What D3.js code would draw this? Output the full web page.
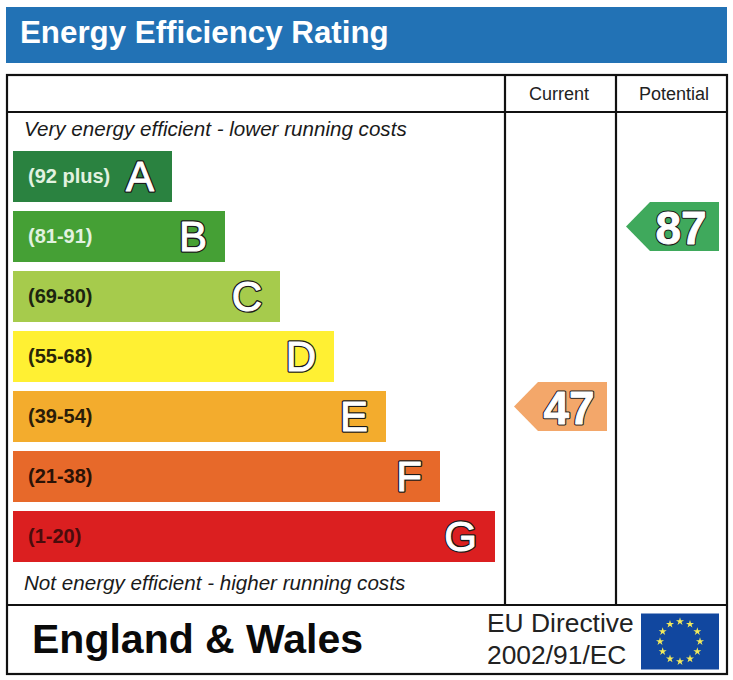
<!DOCTYPE html>
<html>
<head>
<meta charset="utf-8">
<script src="https://cdn.jsdelivr.net/npm/d3@7"></script>
<style>
  body { margin: 0; background: #fff; }
  text { font-family: "Liberation Sans", Arial, sans-serif; }
</style>
</head>
<body>
<svg id="chart"></svg>
<script>
const bands = ["A", "B", "C", "D", "E", "F", "G"];
const ranges = ["(92 plus)", "(81-91)", "(69-80)", "(55-68)", "(39-54)", "(21-38)", "(1-20)"];
const barLengths = [159, 212, 267, 321, 373, 427, 482];
const barColors = ["#2a8240", "#45a035", "#a6cb4c", "#fff033", "#f3ac2d", "#e7692a", "#db1f20"];
const rangeColors = ["#e2f2e0", "#e2f2e0", "#1c2410", "#2a2608", "#2a1c08", "#2a1206", "#4a0c0c"];
const columns = ["Current", "Potential"];
const ratings = [47, 87];
const ratingBands = ["E", "B"];
const ratingColors = ["#f3a76a", "#3fa95c"];

const width = 733,
  height = 680;
const svg = d3.select("#chart").attr("width", width).attr("height", height);

// banner
svg.append("rect").attr("x", 6).attr("y", 7).attr("width", 721).attr("height", 56).attr("fill", "#2272b5");
svg.append("text").attr("x", 20).attr("y", 43).attr("fill", "#fff")
  .attr("font-size", 31.3).attr("font-weight", "bold").text("Energy Efficiency Rating");

const y = d3.scaleBand().domain(bands).range([151, 562]).paddingInner(9 / 60).paddingOuter(0);
const x = d3.scaleLinear().domain([0, 482]).range([13, 495]);
const columnX = d3.scaleOrdinal().domain(columns).range([607, 719]);

// draws the same text twice: dark halo below, white body on top
const outlined = (sel, outer, inner) => {
  sel.append("text").attr("class", "halo").attr("stroke", "#1a1a1a").attr("stroke-width", outer)
    .attr("stroke-linejoin", "round").attr("fill", "#1a1a1a");
  sel.append("text").attr("class", "body").attr("stroke", "#fff").attr("stroke-width", inner)
    .attr("stroke-linejoin", "round").attr("fill", "#fff");
};

// bars
const bar = svg.selectAll(".band").data(bands).enter().append("g").attr("class", "band");
bar.append("rect")
  .attr("x", x(0))
  .attr("y", (d) => y(d))
  .attr("width", (d, i) => x(barLengths[i]) - x(0))
  .attr("height", y.bandwidth())
  .attr("fill", (d, i) => barColors[i]);
bar.append("text")
  .attr("class", "range")
  .attr("x", 28)
  .attr("y", (d) => y(d) + y.bandwidth() / 2 + 6.5)
  .attr("font-size", 20)
  .attr("font-weight", "bold")
  .attr("fill", (d, i) => rangeColors[i])
  .text((d, i) => ranges[i]);
outlined(bar, 3.6, 1);
bar.selectAll(".halo, .body")
  .attr("x", function () {
    const i = bands.indexOf(d3.select(this.parentNode).datum());
    return x(barLengths[i]) - 18;
  })
  .attr("y", function () {
    const d = d3.select(this.parentNode).datum();
    return y(d) + y.bandwidth() / 2 + 14.5;
  })
  .attr("text-anchor", "end")
  .attr("font-size", 42)
  .text(function () {
    return d3.select(this.parentNode).datum();
  });

// frame
const frame = svg.append("g").attr("stroke", "#111").attr("stroke-width", 2.2);
frame.append("rect").attr("x", 7).attr("y", 75).attr("width", 720).attr("height", 599).attr("fill", "none");
frame.append("line").attr("x1", 7).attr("x2", 727).attr("y1", 112).attr("y2", 112);
frame.append("line").attr("x1", 7).attr("x2", 727).attr("y1", 605).attr("y2", 605);
frame.append("line").attr("x1", 505).attr("x2", 505).attr("y1", 75).attr("y2", 605);
frame.append("line").attr("x1", 616).attr("x2", 616).attr("y1", 75).attr("y2", 605);

svg.selectAll(".colhead").data(columns).enter().append("text")
  .attr("class", "colhead")
  .attr("x", (d, i) => [559, 674][i])
  .attr("y", 100)
  .attr("text-anchor", "middle")
  .attr("font-size", 18)
  .attr("fill", "#222")
  .text((d) => d);

// rating arrows
const arrow = svg.selectAll(".rating").data(ratings).enter().append("g").attr("class", "rating");
arrow.append("path")
  .attr("d", (d, i) => {
    const r = columnX(columns[i]);
    const mid = y(ratingBands[i]) + y.bandwidth() / 2 - 10;
    const p = d3.path();
    p.moveTo(r, mid - 24.5);
    p.lineTo(r - 69, mid - 24.5);
    p.lineTo(r - 93, mid);
    p.lineTo(r - 69, mid + 24.5);
    p.lineTo(r, mid + 24.5);
    p.closePath();
    return p.toString();
  })
  .attr("fill", (d, i) => ratingColors[i]);
outlined(arrow, 3, 0.8);
arrow.selectAll(".halo, .body")
  .attr("x", function () {
    const i = ratings.indexOf(d3.select(this.parentNode).datum());
    return columnX(columns[i]) - 38;
  })
  .attr("y", function () {
    const i = ratings.indexOf(d3.select(this.parentNode).datum());
    return y(ratingBands[i]) + y.bandwidth() / 2 - 10 + 17;
  })
  .attr("text-anchor", "middle")
  .attr("font-size", 46)
  .attr("font-weight", "bold")
  .text(function () {
    return d3.select(this.parentNode).datum();
  });

// captions
svg.append("text").attr("x", 24).attr("y", 136).attr("font-size", 20.6).attr("font-style", "italic")
  .attr("fill", "#1a1a1a").text("Very energy efficient - lower running costs");
svg.append("text").attr("x", 24).attr("y", 590).attr("font-size", 20.6).attr("font-style", "italic")
  .attr("fill", "#1a1a1a").text("Not energy efficient - higher running costs");

// footer
svg.append("text").attr("x", 32).attr("y", 653).attr("font-size", 41).attr("font-weight", "bold")
  .attr("fill", "#0a0a0a").text("England & Wales");
svg.append("text").attr("x", 487).attr("y", 632).attr("font-size", 26.4).attr("fill", "#222").text("EU Directive");
svg.append("text").attr("x", 487).attr("y", 664).attr("font-size", 26.4).attr("fill", "#222").text("2002/91/EC");

// EU flag
const flag = svg.append("g").attr("transform", "translate(680,641.5)");
flag.append("rect").attr("x", -39).attr("y", -28).attr("width", 78).attr("height", 56).attr("fill", "#11479f");
flag.selectAll("path").data(d3.range(12)).enter().append("path")
  .attr("d", d3.symbol(d3.symbolStar, 20))
  .attr("fill", "#f2ea5c")
  .attr("transform", (d) => {
    const a = (d * Math.PI) / 6;
    return `translate(${20 * Math.sin(a)},${-20 * Math.cos(a)})`;
  });
</script>
</body>
</html>
